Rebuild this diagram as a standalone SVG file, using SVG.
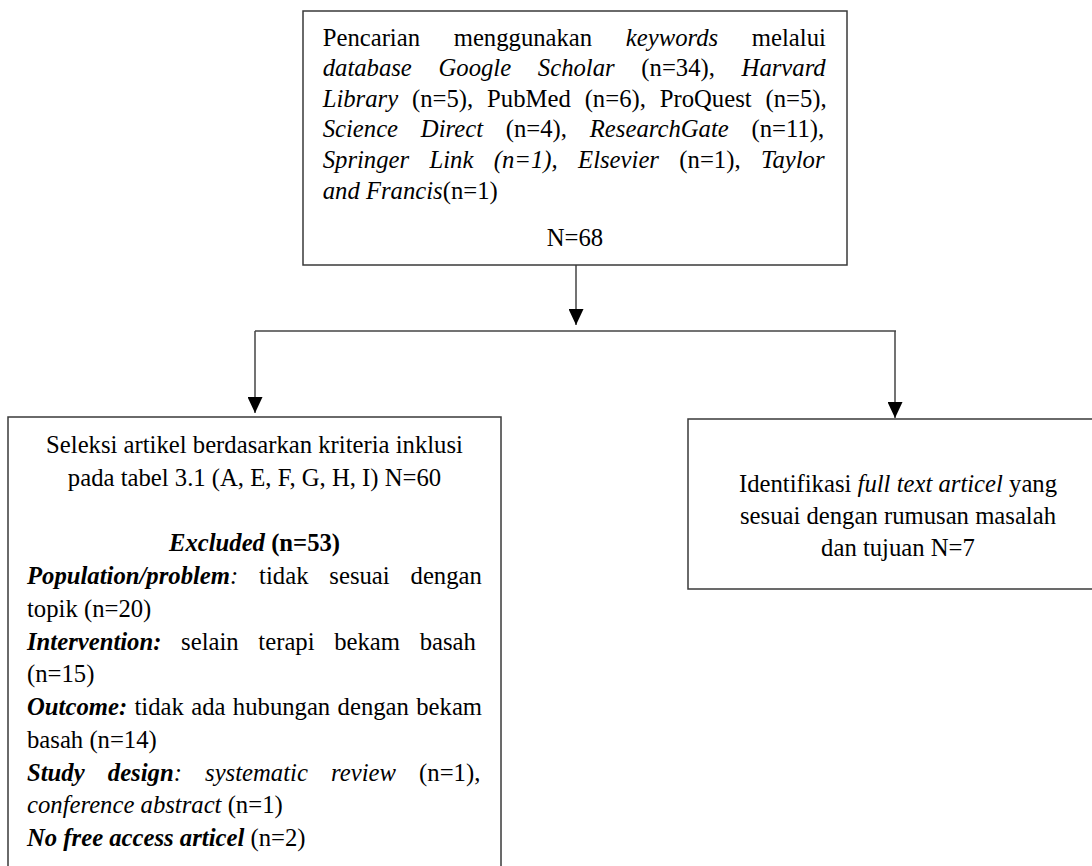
<svg xmlns="http://www.w3.org/2000/svg" width="1092" height="866" viewBox="0 0 1092 866">
<style>
.box{fill:#fff;stroke:#3a3a3a;stroke-width:1.5}
.t{font-family:"Liberation Serif","Times New Roman",serif;font-size:24.7px;fill:#000}
.i{font-style:italic}
.b{font-weight:bold}
.bi{font-weight:bold;font-style:italic}
.c{text-anchor:middle}
.con{fill:none;stroke:#444;stroke-width:1.5}
</style>
<defs>
<marker id="arr" viewBox="0 0 16 15" refX="16" refY="7.5" markerWidth="16" markerHeight="15" markerUnits="userSpaceOnUse" orient="auto">
<path d="M0,0 L16,7.5 L0,15 Z" fill="#000"/>
</marker>
</defs>
<g id="connectors">
<path class="con" d="M576,265 V325" marker-end="url(#arr)"/>
<path class="con" d="M255,331 H896"/>
<path class="con" d="M255,331 V413" marker-end="url(#arr)"/>
<path class="con" d="M895,331 V418" marker-end="url(#arr)"/>
</g>
<g id="search">
<rect class="box" x="303" y="11" width="544" height="254"/>
<text class="t" x="322.7" y="45.5" style="word-spacing:27.5px">Pencarian menggunakan <tspan class="i">keywords</tspan> melalui</text>
<text class="t" x="322.7" y="76" style="word-spacing:20.5px"><tspan class="i">database Google Scholar</tspan> (n=34), <tspan class="i">Harvard</tspan></text>
<text class="t" x="322.7" y="106.7" style="word-spacing:7.7px"><tspan class="i">Library</tspan> (n=5), PubMed (n=6), ProQuest (n=5),</text>
<text class="t" x="322.7" y="137.3" style="word-spacing:16.6px"><tspan class="i">Science Direct</tspan> (n=4), <tspan class="i">ResearchGate</tspan> (n=11),</text>
<text class="t" x="322.7" y="168" style="word-spacing:14.2px"><tspan class="i">Springer Link (n=1),</tspan> <tspan class="i">Elsevier</tspan> (n=1), <tspan class="i">Taylor</tspan></text>
<text class="t" x="322.7" y="198.7"><tspan class="i">and Francis</tspan>(n=1)</text>
<text class="t c" x="575" y="245.5">N=68</text>
</g>
<g id="seleksi">
<rect class="box" x="8" y="417" width="493" height="480"/>
<text class="t c" x="254.5" y="453">Seleksi artikel berdasarkan kriteria inklusi</text>
<text class="t c" x="254.5" y="485.5">pada tabel 3.1 (A, E, F, G, H, I) N=60</text>
<text class="t c" x="254.5" y="551"><tspan class="bi">Excluded</tspan> <tspan class="b">(n=53)</tspan></text>
<text class="t" x="27" y="584" style="word-spacing:14.7px"><tspan class="bi">Population/problem</tspan><tspan class="i">:</tspan> tidak sesuai dengan</text>
<text class="t" x="27" y="616.75">topik (n=20)</text>
<text class="t" x="27" y="649.5" style="word-spacing:13.5px"><tspan class="bi">Intervention:</tspan> selain terapi bekam basah</text>
<text class="t" x="27" y="682.25">(n=15)</text>
<text class="t" x="27" y="715" style="word-spacing:1.2px"><tspan class="bi">Outcome:</tspan> tidak ada hubungan dengan bekam</text>
<text class="t" x="27" y="747.75">basah (n=14)</text>
<text class="t" x="27" y="780.5" style="word-spacing:17px"><tspan class="bi">Study design</tspan><tspan class="i">: systematic review</tspan> (n=1),</text>
<text class="t" x="27" y="813.25"><tspan class="i">conference abstract</tspan> (n=1)</text>
<text class="t" x="27" y="846"><tspan class="bi">No free access articel</tspan> (n=2)</text>
</g>
<g id="identifikasi">
<rect class="box" x="688" y="419" width="430" height="170"/>
<text class="t c" x="898" y="492">Identifikasi <tspan class="i">full text articel</tspan> yang</text>
<text class="t c" x="898" y="524">sesuai dengan rumusan masalah</text>
<text class="t c" x="898" y="556">dan tujuan N=7</text>
</g>
</svg>
